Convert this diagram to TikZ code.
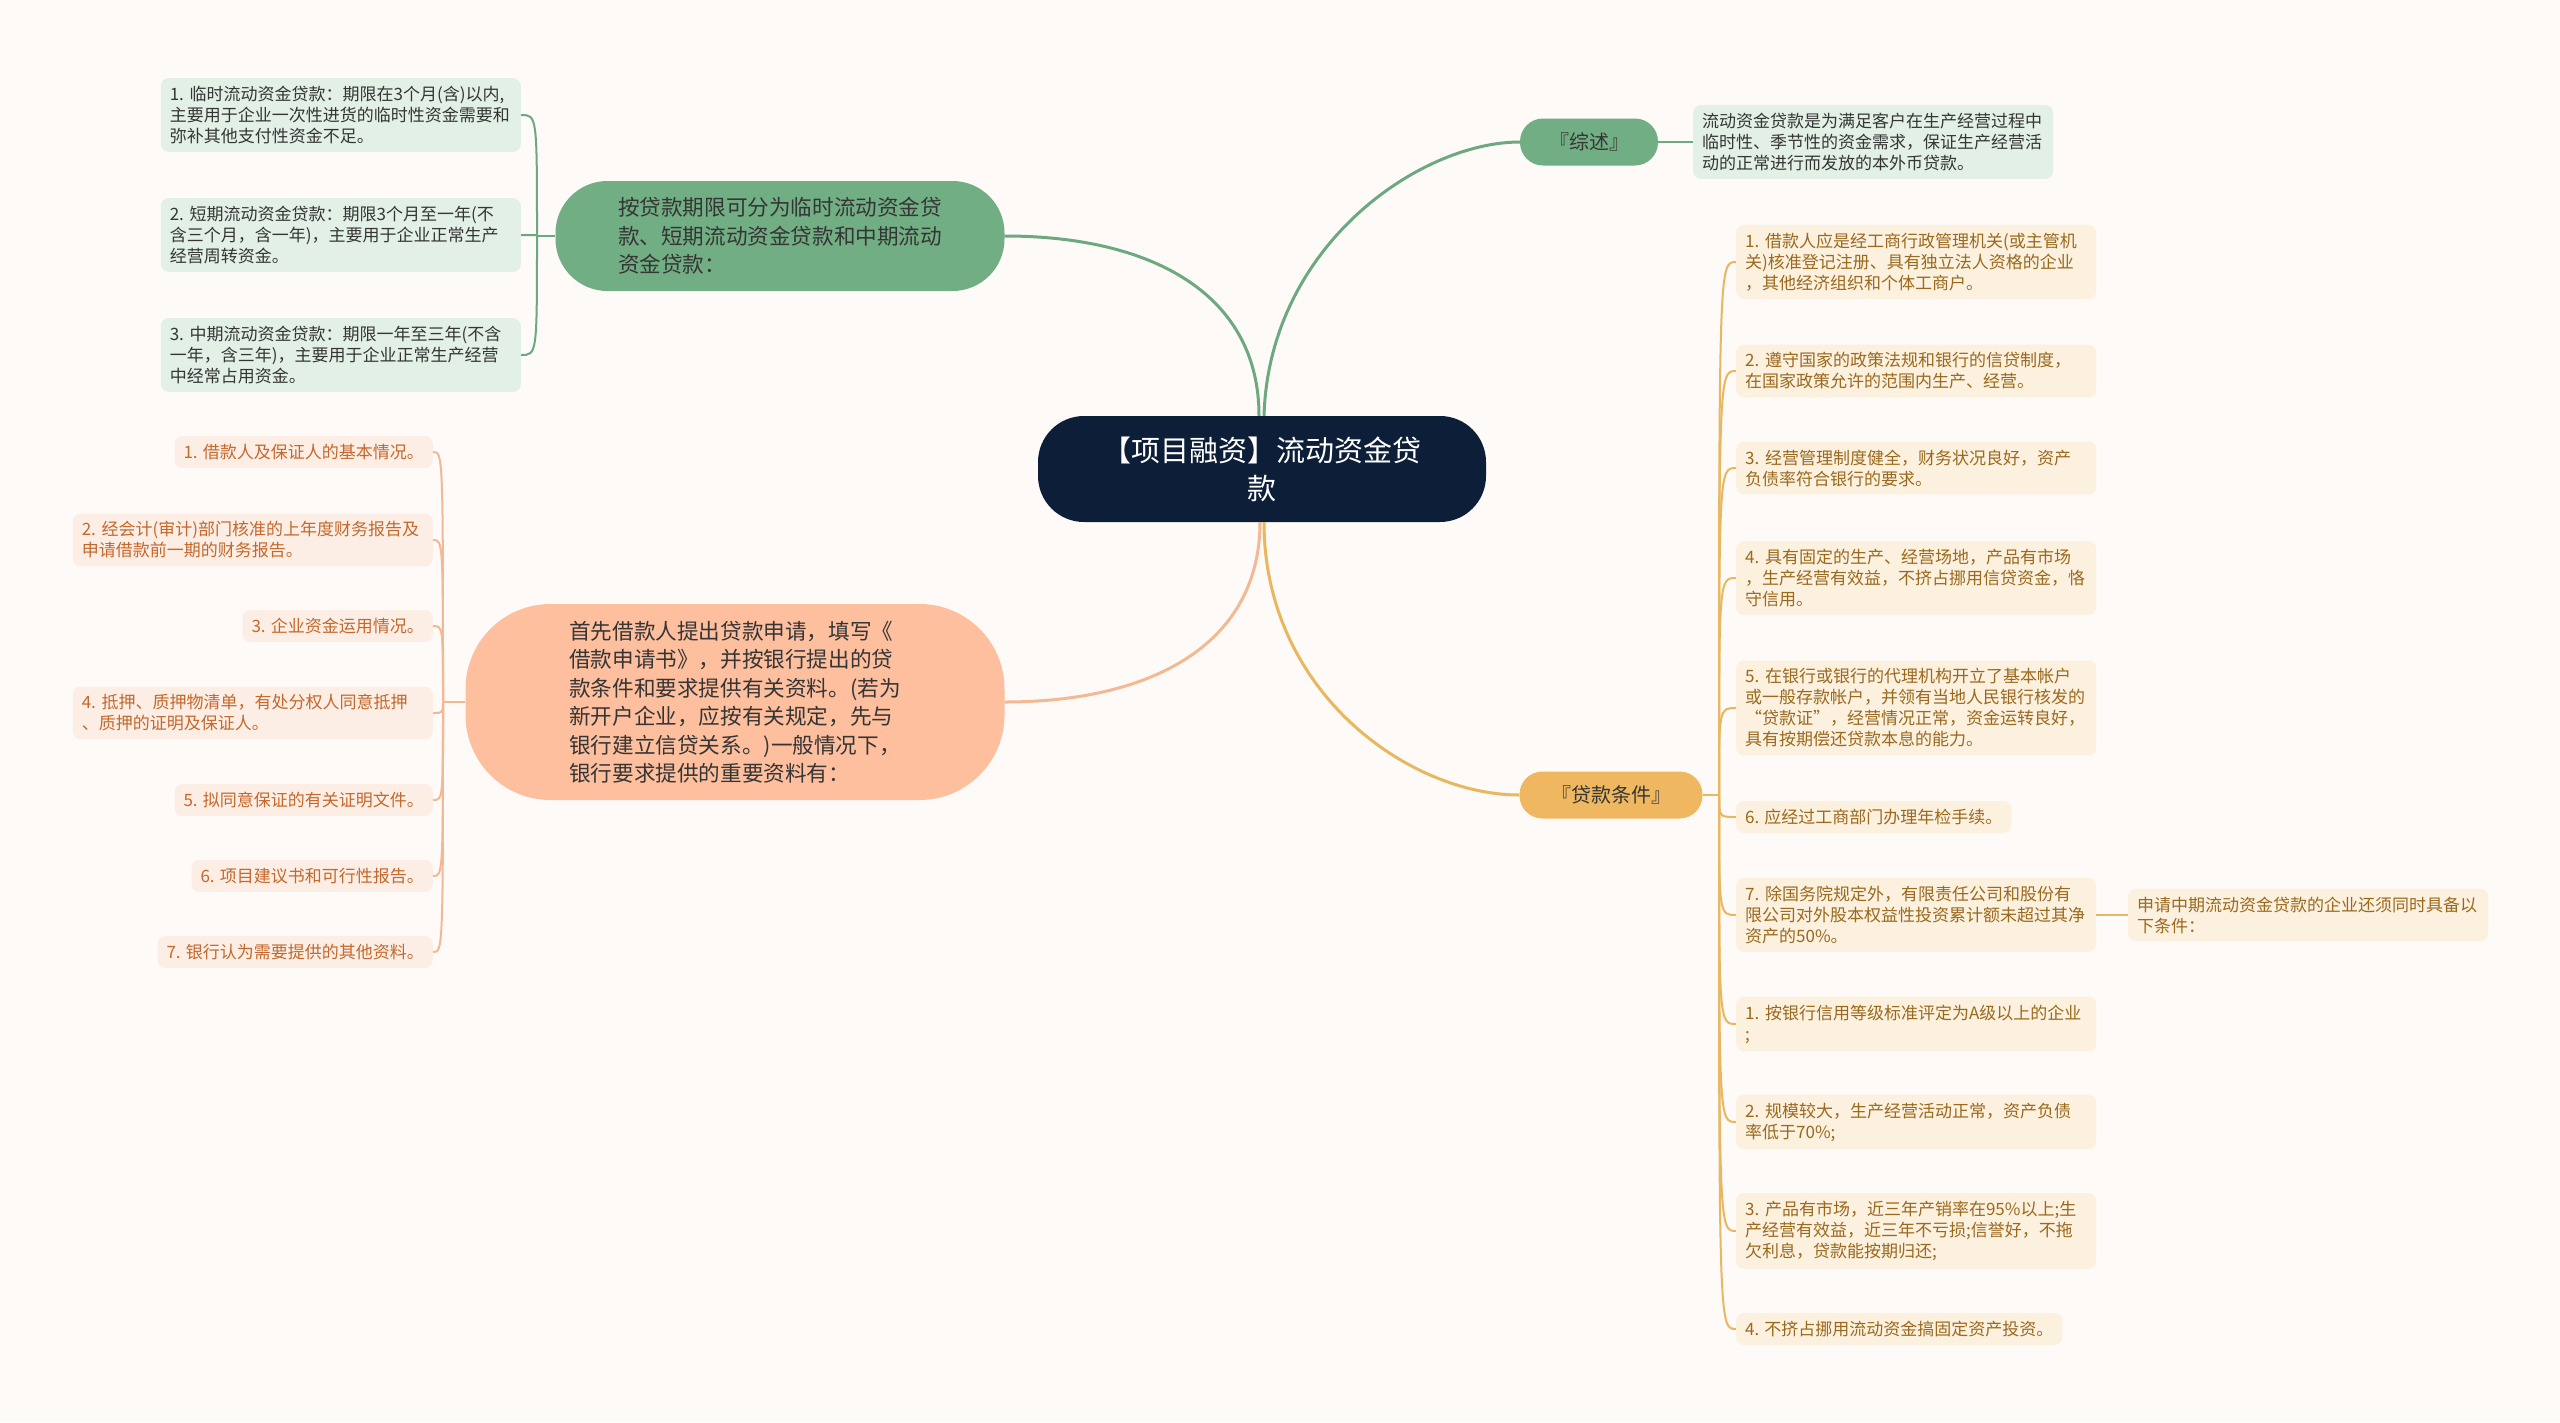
\documentclass[tikz,border=0pt]{standalone}
\usepackage{fontspec}
\setmainfont{Noto Sans CJK SC}
\definecolor{bgcol}{HTML}{FDFAF8}
\definecolor{rootfill}{HTML}{0D1F38}
\definecolor{gfill}{HTML}{72AE83}
\definecolor{gline}{HTML}{6DA880}
\definecolor{gleaffill}{HTML}{E2F0E5}
\definecolor{darktext}{HTML}{353535}
\definecolor{ofill}{HTML}{FDBF9D}
\definecolor{oline}{HTML}{F4B893}
\definecolor{oleaffill}{HTML}{FCEEE5}
\definecolor{oleaftext}{HTML}{C4682C}
\definecolor{kfill}{HTML}{EFB860}
\definecolor{kline}{HTML}{E8B760}
\definecolor{kleaffill}{HTML}{FCF0DE}
\definecolor{kleaftext}{HTML}{9A691E}
\begin{document}
\begin{tikzpicture}[x=1pt,y=-1pt,
        leaf/.style={rounded corners=8pt,inner xsep=9pt,inner ysep=8pt,align=left,
            font=\fontsize{17}{21}\selectfont},
        wide/.style={text width=342pt},
        gleaf/.style={leaf,fill=gleaffill,text=darktext},
        oleaf/.style={leaf,fill=oleaffill,text=oleaftext},
        kleaf/.style={leaf,fill=kleaffill,text=kleaftext},
        topic/.style={align=left,text=darktext,font=\fontsize{21.6}{28.5}\selectfont},
        tag/.style={rounded corners=23pt,minimum height=47pt,text=darktext,
            font=\fontsize{20}{24}\selectfont},
        glink/.style={draw=gline,line width=2pt},
        olink/.style={draw=oline,line width=2pt},
        klink/.style={draw=kline,line width=2pt}]
\useasboundingbox (0,0) rectangle (2560,1422);
\fill[bgcol] (0,0) rectangle (2560,1422);

% main topic and branches
\node[fill=rootfill,text=white,rounded corners=46pt,minimum width=448pt,minimum height=106pt,
    align=center,font=\fontsize{29}{38}\selectfont] (root) at (1262,469)
    {【项目融资】流动资金贷\\款};
\node[topic,fill=gfill,rounded corners=52pt,minimum width=449pt,minimum height=110pt]
    (term) at (780,236)
    {按贷款期限可分为临时流动资金贷\\款、短期流动资金贷款和中期流动\\资金贷款：};
\node[topic,fill=ofill,rounded corners=85pt,minimum width=539pt,minimum height=196pt]
    (apply) at (735,702)
    {首先借款人提出贷款申请，填写《\\借款申请书》，并按银行提出的贷\\款条件和要求提供有关资料。(若为\\新开户企业，应按有关规定，先与\\银行建立信贷关系。)一般情况下，\\银行要求提供的重要资料有：};
\node[tag,fill=gfill,minimum width=138pt] (summary) at (1589,142) {『综述』};
\node[tag,fill=kfill,minimum width=183pt] (cond) at (1611,795) {『贷款条件』};

% term kinds
\node[gleaf,wide,anchor=east] (term1) at (521,115)
    {1.~临时流动资金贷款：期限在3个月(含)以内,\\主要用于企业一次性进货的临时性资金需要和\\弥补其他支付性资金不足。};
\node[gleaf,wide,anchor=east] (term2) at (521,235)
    {2.~短期流动资金贷款：期限3个月至一年(不\\含三个月，含一年)，主要用于企业正常生产\\经营周转资金。};
\node[gleaf,wide,anchor=east] (term3) at (521,355)
    {3.~中期流动资金贷款：期限一年至三年(不含\\一年，含三年)，主要用于企业正常生产经营\\中经常占用资金。};

% documents
\node[oleaf,anchor=east] (doc1) at (433,452) {1. 借款人及保证人的基本情况。};
\node[oleaf,wide,anchor=east] (doc2) at (433,540)
    {2.~经会计(审计)部门核准的上年度财务报告及\\申请借款前一期的财务报告。};
\node[oleaf,anchor=east] (doc3) at (433,626) {3. 企业资金运用情况。};
\node[oleaf,wide,anchor=east] (doc4) at (433,713)
    {4.~抵押、质押物清单，有处分权人同意抵押\\、质押的证明及保证人。};
\node[oleaf,anchor=east] (doc5) at (433,800) {5. 拟同意保证的有关证明文件。};
\node[oleaf,anchor=east] (doc6) at (433,876) {6. 项目建议书和可行性报告。};
\node[oleaf,anchor=east] (doc7) at (433,952) {7. 银行认为需要提供的其他资料。};

% summary text
\node[gleaf,wide,anchor=west] (summarytxt) at (1693,142)
    {流动资金贷款是为满足客户在生产经营过程中\\临时性、季节性的资金需求，保证生产经营活\\动的正常进行而发放的本外币贷款。};

% conditions
\node[kleaf,wide,anchor=west] (cond1) at (1736,262)
    {1.~借款人应是经工商行政管理机关(或主管机\\关)核准登记注册、具有独立法人资格的企业\\，其他经济组织和个体工商户。};
\node[kleaf,wide,anchor=west] (cond2) at (1736,371)
    {2.~遵守国家的政策法规和银行的信贷制度，\\在国家政策允许的范围内生产、经营。};
\node[kleaf,wide,anchor=west] (cond3) at (1736,468)
    {3.~经营管理制度健全，财务状况良好，资产\\负债率符合银行的要求。};
\node[kleaf,wide,anchor=west] (cond4) at (1736,578)
    {4.~具有固定的生产、经营场地，产品有市场\\，生产经营有效益，不挤占挪用信贷资金，恪\\守信用。};
\node[kleaf,wide,anchor=west] (cond5) at (1736,708)
    {5.~在银行或银行的代理机构开立了基本帐户\\或一般存款帐户，并领有当地人民银行核发的\\“贷款证”，经营情况正常，资金运转良好，\\具有按期偿还贷款本息的能力。};
\node[kleaf,anchor=west] (cond6) at (1736,817) {6. 应经过工商部门办理年检手续。};
\node[kleaf,wide,anchor=west] (cond7) at (1736,915)
    {7.~除国务院规定外，有限责任公司和股份有\\限公司对外股本权益性投资累计额未超过其净\\资产的50\%。};
\node[kleaf,wide,anchor=west] (extra) at (2128,915)
    {申请中期流动资金贷款的企业还须同时具备以\\下条件：};
\node[kleaf,wide,anchor=west] (cond8) at (1736,1024)
    {1.~按银行信用等级标准评定为A级以上的企业\\;};
\node[kleaf,wide,anchor=west] (cond9) at (1736,1122)
    {2.~规模较大，生产经营活动正常，资产负债\\率低于70\%;};
\node[kleaf,wide,anchor=west] (cond10) at (1736,1231)
    {3.~产品有市场，近三年产销率在95\%以上;生\\产经营有效益，近三年不亏损;信誉好，不拖\\欠利息，贷款能按期归还;};
\node[kleaf,anchor=west] (cond11) at (1736,1329) {4. 不挤占挪用流动资金搞固定资产投资。};

% main curves
\draw[gline,line width=3pt] ([xshift=-3pt]root.north) .. controls +(0,-120) and +(150,0) .. (term.east);
\draw[gline,line width=3pt] ([xshift=2pt]root.north) .. controls +(5,-170) and +(-100,0) .. (summary.west);
\draw[oline,line width=3pt] ([xshift=-2pt]root.south) .. controls +(0,120) and +(150,0) .. (apply.east);
\draw[kline,line width=3pt] ([xshift=2pt]root.south) .. controls +(0,170) and +(-110,0) .. (cond.west);

% brackets
\coordinate (tb) at (537,236);
\coordinate (ab) at (443,702);
\coordinate (cb) at (1719,795);
\draw[glink] (term.west) -- (tb);
\draw[glink] (tb) .. controls (tb |- term1.east) .. (term1.east);
\draw[glink] (tb) .. controls (tb |- term2.east) .. (term2.east);
\draw[glink] (tb) .. controls (tb |- term3.east) .. (term3.east);
\draw[glink] (summary.east) -- (summarytxt.west);

\draw[olink] (apply.west) -- (ab);
\draw[olink] (ab) .. controls (ab |- doc1.east) .. (doc1.east);
\draw[olink] (ab) .. controls (ab |- doc2.east) .. (doc2.east);
\draw[olink] (ab) .. controls (ab |- doc3.east) .. (doc3.east);
\draw[olink] (ab) .. controls (ab |- doc4.east) .. (doc4.east);
\draw[olink] (ab) .. controls (ab |- doc5.east) .. (doc5.east);
\draw[olink] (ab) .. controls (ab |- doc6.east) .. (doc6.east);
\draw[olink] (ab) .. controls (ab |- doc7.east) .. (doc7.east);

\draw[klink] (cond.east) -- (cb);
\draw[klink] (cb) .. controls (cb |- cond1.west) .. (cond1.west);
\draw[klink] (cb) .. controls (cb |- cond2.west) .. (cond2.west);
\draw[klink] (cb) .. controls (cb |- cond3.west) .. (cond3.west);
\draw[klink] (cb) .. controls (cb |- cond4.west) .. (cond4.west);
\draw[klink] (cb) .. controls (cb |- cond5.west) .. (cond5.west);
\draw[klink] (cb) .. controls (cb |- cond6.west) .. (cond6.west);
\draw[klink] (cb) .. controls (cb |- cond7.west) .. (cond7.west);
\draw[klink] (cb) .. controls (cb |- cond8.west) .. (cond8.west);
\draw[klink] (cb) .. controls (cb |- cond9.west) .. (cond9.west);
\draw[klink] (cb) .. controls (cb |- cond10.west) .. (cond10.west);
\draw[klink] (cb) .. controls (cb |- cond11.west) .. (cond11.west);
\draw[klink] (cond7.east) -- (extra.west);
\end{tikzpicture}
\end{document}
